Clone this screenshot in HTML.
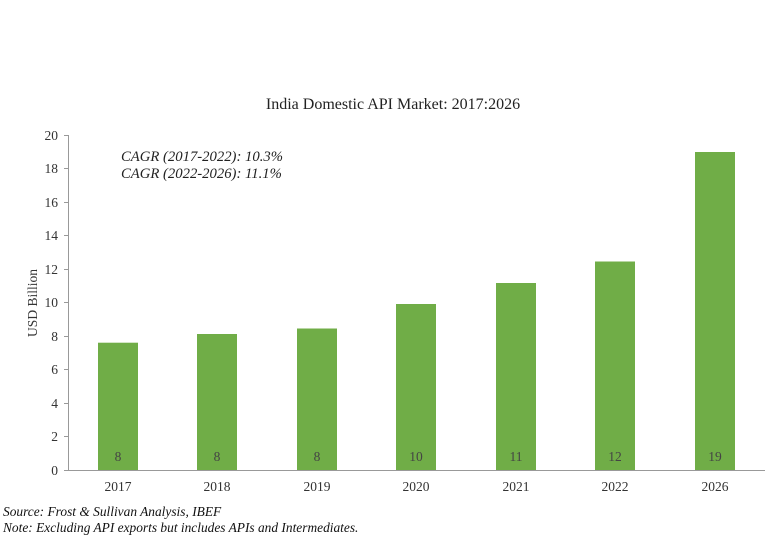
<!DOCTYPE html>
<html><head><style>body{margin:0;background:#fff}svg{display:block}</style></head><body>
<svg width="772" height="541" xmlns="http://www.w3.org/2000/svg" font-family="Liberation Serif, serif" fill="#333">
<text x="393" y="109" font-size="16" text-anchor="middle" fill="#222">India Domestic API Market: 2017:2026</text>
<g stroke="#999" stroke-width="1">
<line x1="68.5" y1="135" x2="68.5" y2="470"/>
<line x1="68" y1="470.5" x2="765" y2="470.5"/>
<line x1="64" y1="470.5" x2="68" y2="470.5"/><line x1="64" y1="436.5" x2="68" y2="436.5"/><line x1="64" y1="403.5" x2="68" y2="403.5"/><line x1="64" y1="369.5" x2="68" y2="369.5"/><line x1="64" y1="336.5" x2="68" y2="336.5"/><line x1="64" y1="302.5" x2="68" y2="302.5"/><line x1="64" y1="269.5" x2="68" y2="269.5"/><line x1="64" y1="235.5" x2="68" y2="235.5"/><line x1="64" y1="202.5" x2="68" y2="202.5"/><line x1="64" y1="168.5" x2="68" y2="168.5"/><line x1="64" y1="135.5" x2="68" y2="135.5"/>
</g>
<g font-size="13.5" text-anchor="end">
<text x="58" y="475">0</text><text x="58" y="441">2</text><text x="58" y="408">4</text><text x="58" y="374">6</text><text x="58" y="341">8</text><text x="58" y="307">10</text><text x="58" y="274">12</text><text x="58" y="240">14</text><text x="58" y="207">16</text><text x="58" y="173">18</text><text x="58" y="140">20</text>
</g>
<text transform="translate(37,303) rotate(-90)" font-size="13.5" text-anchor="middle">USD Billion</text>
<g font-size="14.7" font-style="italic" fill="#222">
<text x="121" y="161">CAGR (2017-2022): 10.3%</text>
<text x="121" y="178">CAGR (2022-2026): 11.1%</text>
</g>
<g fill="#70ad47">
<rect x="98" y="342.7" width="40" height="127.3"/>
<rect x="197" y="334" width="40" height="136"/>
<rect x="297" y="328.5" width="40" height="141.5"/>
<rect x="396" y="304" width="40" height="166"/>
<rect x="496" y="283" width="40" height="187"/>
<rect x="595" y="261.5" width="40" height="208.5"/>
<rect x="695" y="152" width="40" height="318"/>
</g>
<g font-size="13.5" text-anchor="middle" fill="#444">
<text x="118" y="461">8</text><text x="217" y="461">8</text><text x="317" y="461">8</text><text x="416" y="461">10</text><text x="516" y="461">11</text><text x="615" y="461">12</text><text x="715" y="461">19</text>
</g>
<g font-size="13.5" text-anchor="middle">
<text x="118" y="491">2017</text><text x="217" y="491">2018</text><text x="317" y="491">2019</text><text x="416" y="491">2020</text><text x="516" y="491">2021</text><text x="615" y="491">2022</text><text x="715" y="491">2026</text>
</g>
<g font-size="13.4" font-style="italic" fill="#111">
<text x="3" y="516">Source: Frost &amp; Sullivan Analysis, IBEF</text>
<text x="3" y="532">Note: Excluding API exports but includes APIs and Intermediates.</text>
</g>
</svg>
</body></html>
